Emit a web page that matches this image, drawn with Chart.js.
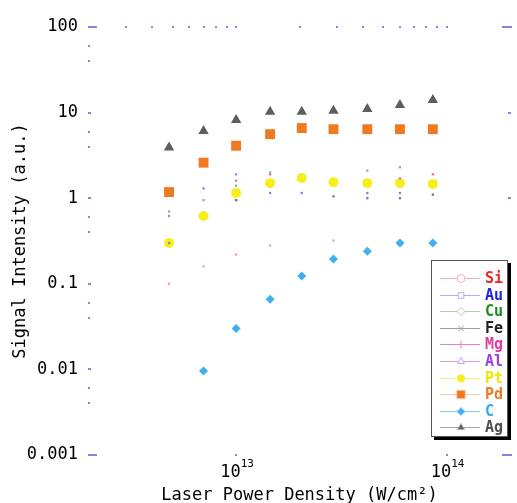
<!DOCTYPE html>
<html>
<head>
<meta charset="utf-8">
<script src="https://cdn.jsdelivr.net/npm/chart.js@4/dist/chart.umd.min.js"></script>
<style>
  html, body { margin: 0; padding: 0; background: #fff; }
</style>
</head>
<body>
<canvas id="chart" width="517" height="503"></canvas>
<script>
// Dane
const powerDensity = [4.8e12, 7.0e12, 1.0e13, 1.45e13, 2.05e13, 2.9e13, 4.2e13, 6.0e13, 8.6e13];
const siValues = [0.10, 0.16, 0.22, 0.28, null, 0.32, null, null, null];
const auValues = [0.62, null, 1.9, null, null, null, null, null, null];
const cuValues = [0.7, 0.95, 1.4, 2.0, null, null, 2.1, 2.3, null];
const feValues = [null, null, 0.95, null, null, 1.05, 1.0, 1.0, 1.1];
const mgValues = [null, null, 1.6, 1.9, null, null, null, 1.7, 1.9];
const alValues = [0.3, 1.3, 0.95, 1.15, 1.15, null, 1.15, 1.15, null];
const ptValues = [0.30, 0.62, 1.15, 1.5, 1.72, 1.54, 1.5, 1.5, 1.47];
const pdValues = [1.18, 2.6, 4.1, 5.6, 6.6, 6.4, 6.4, 6.4, 6.4];
const cValues = [null, 0.0096, 0.03, 0.066, 0.123, 0.195, 0.24, 0.30, 0.30];
const agValues = [3.9, 6.1, 8.2, 10.2, 10.2, 10.5, 11.0, 12.3, 14.0];

const yTicks = [100, 10, 1, 0.1, 0.01, 0.001];
const yTickLabels = ['100', '10', '1', '0.1', '0.01', '0.001'];
const xTicks = [1e13, 1e14];
const xTickExponents = ['13', '14'];

const FONT = "'DejaVu Sans Mono', monospace";
const TICK_BLUE = '#8585dd';

// Style serii: [etykieta, dane, kolor punktu, rozmiar, styl punktu, kolor linii legendy, kolor tekstu, styl w legendzie, wypełnienie w legendzie]
const seriesDefs = [
    ['Si', siValues, '#f2a0a0', 1.6, 'rect', '#f5b0b0', '#e82828', 'circle', false],
    ['Au', auValues, '#9090ee', 1.6, 'rect', '#b0b0f5', '#2424e0', 'rect', false],
    ['Cu', cuValues, '#88bb88', 1.6, 'rect', '#a8d0a8', '#1e8a1e', 'rectRot', false],
    ['Fe', feValues, '#777777', 1.6, 'rect', '#a0a0a0', '#222222', 'crossRot', false],
    ['Mg', mgValues, '#e070b0', 1.6, 'rect', '#f080c0', '#e03c9c', 'cross', false],
    ['Al', alValues, '#a070e0', 1.6, 'rect', '#c8a0f0', '#a040e0', 'triangle', false],
    ['Pt', ptValues, '#f8ee1c', 5, 'circle', '#f8f080', '#f0e400', 'circle', true],
    ['Pd', pdValues, '#f07a22', 7, 'rect', '#f8c8a8', '#f07a22', 'rect', true],
    ['C', cValues, '#3eb0f0', 4.5, 'rectRot', '#88ccf2', '#30a8f0', 'rectRot', true],
    ['Ag', agValues, '#5e5e5e', 6, 'triangle', '#a8a8a8', '#505050', 'triangle', true]
];

const datasets = seriesDefs.map(s => ({
    label: s[0],
    data: powerDensity.map((x, i) => ({ x: x, y: s[1][i] })).filter(p => p.y !== null),
    backgroundColor: s[2],
    borderColor: s[2],
    pointRadius: s[3],
    pointHoverRadius: s[3],
    pointStyle: s[4],
    borderWidth: 0,
    showLine: false
}));

// Znaczniki osi i etykiety 10^n
const axisMarks = {
    id: 'axisMarks',
    afterDraw(chart) {
        const { ctx, chartArea: a, scales: { x, y } } = chart;
        ctx.save();
        ctx.fillStyle = TICK_BLUE;
        // narożniki
        [a.top, a.bottom].forEach(py => {
            ctx.fillRect(a.left - 1, py - 1, 9, 2);
            ctx.fillRect(a.right - 8, py - 1, 10, 2);
        });
        // dekady osi Y
        yTicks.slice(1, -1).forEach(v => {
            const py = Math.round(y.getPixelForValue(v));
            ctx.fillRect(a.left - 1, py - 1, 3, 2);
            ctx.fillRect(a.right - 2, py - 1, 3, 2);
        });
        // drobne znaczniki Y
        yTicks.slice(0, -1).forEach(v => {
            [0.6, 0.4].forEach(m => {
                const py = Math.round(y.getPixelForValue(v * m));
                ctx.fillRect(a.left - 1, py - 1, 2, 2);
            });
        });
        // drobne znaczniki X na górze
        [1e12, 1e13].forEach(d => {
            for (let m = (d === 1e12 ? 3 : 2); m <= 10; m++) {
                const px = Math.round(x.getPixelForValue(d * m));
                ctx.fillRect(px - 1, a.top - 1, 2, 2);
            }
        });
        xTicks.forEach(v => {
            const px = Math.round(x.getPixelForValue(v));
            ctx.fillRect(px - 1, a.bottom - 1, 2, 2);
        });

        // etykiety 10^13, 10^14
        ctx.fillStyle = '#000';
        ctx.textBaseline = 'alphabetic';
        xTicks.forEach((v, i) => {
            const px = x.getPixelForValue(v);
            ctx.font = '17px ' + FONT;
            const baseW = ctx.measureText('10').width;
            ctx.font = '11px ' + FONT;
            const expW = ctx.measureText(xTickExponents[i]).width;
            const left = px - (baseW + expW) / 2 + 1;
            ctx.font = '17px ' + FONT;
            ctx.textAlign = 'left';
            ctx.fillText('10', left, 477);
            ctx.font = '11px ' + FONT;
            ctx.fillText(xTickExponents[i], left + baseW, 467);
        });
        ctx.restore();
    }
};

// Legenda w ramce z cieniem
const boxLegend = {
    id: 'boxLegend',
    afterDraw(chart) {
        const ctx = chart.ctx;
        const bx = 431, by = 260, bw = 77, bh = 177;
        ctx.save();
        ctx.fillStyle = '#000';
        ctx.fillRect(bx + 3, by + 3, bw, bh);
        ctx.fillStyle = '#fff';
        ctx.fillRect(bx, by, bw, bh);
        ctx.strokeStyle = '#555';
        ctx.lineWidth = 1;
        ctx.strokeRect(bx + 0.5, by + 0.5, bw - 1, bh - 1);

        seriesDefs.forEach((s, i) => {
            const ry = Math.round(278 + i * 16.6) + 0.5;
            ctx.strokeStyle = s[5];
            ctx.lineWidth = 1;
            ctx.beginPath();
            ctx.moveTo(440, ry);
            ctx.lineTo(480, ry);
            ctx.stroke();

            ctx.strokeStyle = s[5];
            ctx.fillStyle = s[8] ? s[2] : '#fff';
            ctx.lineWidth = 1;
            Chart.helpers.drawPoint(ctx, {
                pointStyle: s[7],
                radius: s[8] ? (s[7] === 'rect' ? 6 : 4) : 4,
                rotation: 0,
                borderWidth: 1
            }, 461, ry);

            ctx.fillStyle = s[6];
            ctx.font = 'bold 15px ' + FONT;
            ctx.textAlign = 'left';
            ctx.textBaseline = 'middle';
            ctx.fillText(s[0], 485, ry + 1);
        });
        ctx.restore();
    }
};

new Chart(document.getElementById('chart'), {
    type: 'scatter',
    data: { datasets: datasets },
    options: {
        responsive: false,
        animation: false,
        layout: { padding: { top: 27, right: 2, left: 0, bottom: 0 } },
        plugins: {
            legend: { display: false },
            tooltip: { enabled: false }
        },
        scales: {
            x: {
                type: 'logarithmic',
                min: 2e12,
                max: 2e14,
                grid: { display: false },
                border: { display: false },
                ticks: { display: false },
                afterFit: axis => { axis.height = 48; },
                title: {
                    display: true,
                    text: 'Laser Power Density (W/cm²)',
                    color: '#000',
                    font: { family: FONT, size: 17 },
                    padding: { top: 0, bottom: -3 }
                }
            },
            y: {
                type: 'logarithmic',
                min: 0.001,
                max: 100,
                grid: { display: false, drawTicks: false },
                border: { display: false },
                afterBuildTicks: axis => { axis.ticks = yTicks.map(v => ({ value: v })); },
                afterFit: axis => { axis.width = 89; },
                ticks: {
                    color: '#000',
                    padding: 11,
                    font: { family: FONT, size: 17 },
                    callback: (v) => {
                        const i = yTicks.findIndex(t => Math.abs(Math.log10(t) - Math.log10(v)) < 1e-6);
                        return i >= 0 ? yTickLabels[i] : '';
                    }
                },
                title: {
                    display: true,
                    text: 'Signal Intensity (a.u.)',
                    color: '#000',
                    font: { family: FONT, size: 17 },
                    padding: { top: 10, bottom: 0 }
                }
            }
        }
    },
    plugins: [axisMarks, boxLegend]
});
</script>
</body>
</html>
